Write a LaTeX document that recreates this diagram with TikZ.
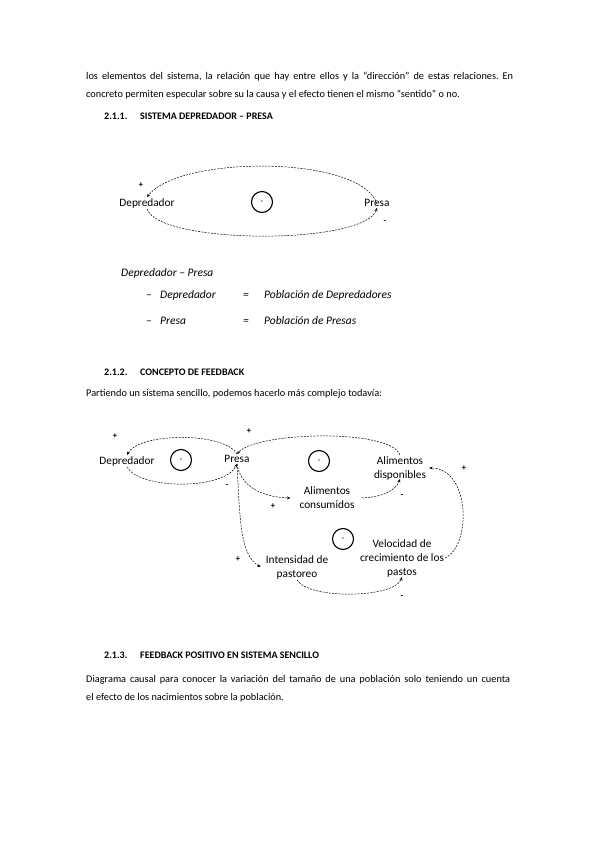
\documentclass[tikz,border=0pt]{standalone}
\usepackage{fontspec}
\setmainfont{Carlito}
\usetikzlibrary{positioning,arrows.meta}
\frenchspacing

\begin{document}
\begin{tikzpicture}[
  x=1pt, y=-1pt,
  body/.style={anchor=base west, inner sep=0pt, align=left, font=\fontsize{10.3}{18}\selectfont},
  heading/.style={anchor=base west, inner sep=0pt, font=\fontsize{10}{12}\selectfont\bfseries},
  defn/.style={anchor=base west, inner sep=0pt, font=\fontsize{11.5}{13}\selectfont\itshape},
  var/.style={align=center, inner sep=1pt, font=\fontsize{11.3}{14}\selectfont},
  loopsign/.style={circle, draw, line width=1.1pt, minimum size=21pt, inner sep=0pt, font=\fontsize{7}{7}\selectfont\bfseries},
  sign/.style={inner sep=0pt, font=\fontsize{8.5}{8.5}\selectfont\bfseries},
  link/.style={dash pattern=on 2pt off 1.2pt, line width=0.5pt, -{Stealth[length=3.5pt,width=3pt]}},
]
\useasboundingbox[fill=white] (0,0) rectangle (599,848);

% text above (base = last line)
\node[body] (par1) at (86,98) {\makebox[427pt][s]{los elementos del sistema, la relación que hay entre ellos y la “dirección” de estas relaciones. En}\\
concreto permiten especular sobre su la causa y el efecto tienen el mismo “sentido” o no.};
\node[heading] (sec1) at (104,120) {\makebox[36pt][l]{2.1.1.}SISTEMA DEPREDADOR – PRESA};

% depredador - presa
\node[var] (dep1) at (147,203) {Depredador};
\node[var] (pre1) at (377,203) {Presa};
\node[loopsign] (loop1) at (262,202) {-};
\node[sign] (s11) at (141,185) {+};
\node[sign] (s12) at (385,222) {-};
\draw[link] ([yshift=-6pt]pre1.north) .. controls (362,155) and (180,155) .. (dep1.north);
\draw[link] (dep1.south) .. controls (160,245) and (365,245) .. (pre1.south);

\node[defn] (def0) at (121,276) {Depredador – Presa};
\node[defn] (def1) at (146,298) {\makebox[14pt][l]{–}\makebox[83pt][l]{Depredador}\makebox[21pt][l]{=}Población de Depredadores};
\node[defn] (def2) at (146,324) {\makebox[14pt][l]{–}\makebox[83pt][l]{Presa}\makebox[21pt][l]{=}Población de Presas};

\node[heading] (sec2) at (104,375) {\makebox[36pt][l]{2.1.2.}CONCEPTO DE FEEDBACK};
\node[body] (par2) at (86,396) {Partiendo un sistema sencillo, podemos hacerlo más complejo todavía:};

% feedback
\node[var] (dep2) at (127,461) {Depredador};
\node[loopsign] (loop2) at (181,460) {-};
\node[var] (pre2) at (237,459) {Presa};
\node[loopsign] (loop3) at (319,461) {-};
\node[var] (alid) at (400,468) {Alimentos\\disponibles};
\node[var] (alic) at (327,498) {Alimentos\\consumidos};
\node[loopsign] (loop4) at (343,539) {-};
\node[var] (velo) at (402,558) {Velocidad de\\crecimiento de los\\pastos};
\node[var] (inte) at (297,567) {Intensidad de\\pastoreo};
\node[sign] (s21) at (115,436) {+};
\node[sign] (s22) at (249,431) {+};
\node[sign] (s23) at (464,468) {+};
\node[sign] (s24) at (227,486) {-};
\node[sign] (s25) at (273,506) {+};
\node[sign] (s26) at (402,496) {-};
\node[sign] (s27) at (238,559) {+};
\node[sign] (s28) at (402,597) {-};
\draw[link] (pre2.north) .. controls (225,432) and (140,432) .. (dep2.north);
\draw[link] (dep2.south) .. controls (140,490) and (225,490) .. (pre2.south);
\draw[link] (alid.north) .. controls (390,428) and (255,432) .. (pre2.north);
\draw[link] (pre2.south) .. controls (240,485) and (260,497) .. ([xshift=-8pt]alic.west);
\draw[link] ([xshift=6pt]alic.east) .. controls (380,497) and (395,492) .. ([yshift=2pt]alid.south);
\draw[link] (pre2.south) .. controls (240,520) and (240,555) .. ([xshift=-4pt]inte.west);
\draw[link] (inte.south) .. controls (310,600) and (395,598) .. ([yshift=1pt]velo.south);
\draw[link] (velo.east) .. controls (472,545) and (470,468) .. ([xshift=2pt]alid.east);

\node[heading] (sec3) at (104,658) {\makebox[36pt][l]{2.1.3.}FEEDBACK POSITIVO EN SISTEMA SENCILLO};
\node[body] (par3) at (86,700) {\makebox[424pt][s]{Diagrama causal para conocer la variación del tamaño de una población solo teniendo un cuenta}\\
el efecto de los nacimientos sobre la población.};
\end{tikzpicture}
\end{document}
